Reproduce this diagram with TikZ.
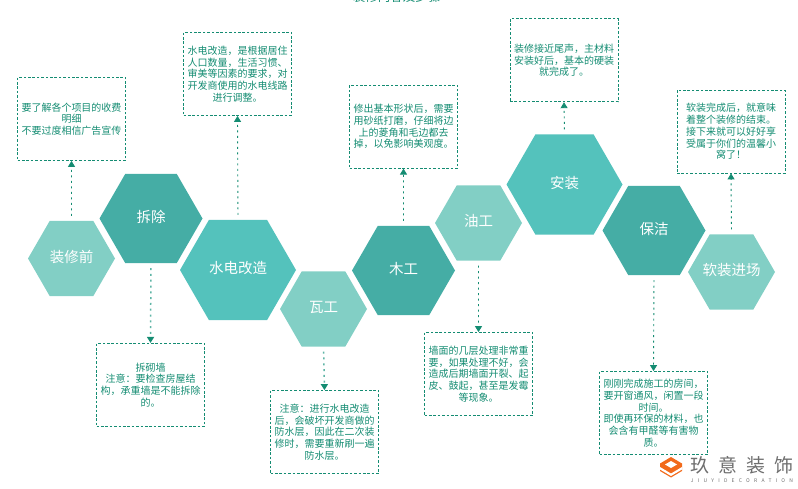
\documentclass[tikz,border=0pt]{standalone}
\usepackage{fontspec}
\setmainfont{Noto Sans CJK SC}
\usetikzlibrary{shapes.geometric,arrows.meta}
\definecolor{boxgreen}{HTML}{148C72}
\definecolor{hexlight}{HTML}{82CFC5}
\definecolor{hexdark}{HTML}{45ADA5}
\definecolor{hexmid}{HTML}{54C2BC}
\definecolor{dotlight}{HTML}{5FB5A6}
\definecolor{logoorange}{HTML}{F26A1B}
\definecolor{markgray}{HTML}{6E6E6E}
\tikzset{
  hexbase/.style={regular polygon,regular polygon sides=6,text depth=4.5pt,
    inner sep=-10pt,outer sep=0pt,text=white,font=\fontsize{14.5}{16}\selectfont},
  hexsmall/.style={hexbase,fill=hexlight,minimum size=87pt},
  hexdeep/.style={hexbase,fill=hexdark,minimum size=103pt},
  hexbig/.style={hexbase,fill=hexmid,minimum size=116pt},
  notebox/.style={draw=boxgreen,dash pattern=on 2.6pt off 1.8pt,line width=0.8pt,
    minimum width=108pt,minimum height=83pt,inner sep=0pt,align=center,text=boxgreen,
    font=\fontsize{10}{11.7}\selectfont},
  link/.style={draw=boxgreen,line width=0.9pt,dash pattern=on 2pt off 3.5pt,shorten <=5pt,
    -{Triangle[width=7pt,length=6pt,color=boxgreen,fill=boxgreen]}},
  linkpale/.style={link,draw=dotlight,line width=1.5pt,dash pattern=on 2pt off 3.8pt},
  markcn/.style={text=markgray,font=\fontsize{19}{21}\selectfont\addfontfeature{LetterSpace=46}},
  marken/.style={text=markgray,font=\fontsize{5}{6}\selectfont\addfontfeature{LetterSpace=85}}
}
\begin{document}
\begin{tikzpicture}[x=1pt,y=-1pt]
  \useasboundingbox (0,0) rectangle (798,489);
  \clip (0,0) rectangle (798,489);
  \node [text=boxgreen,font=\fontsize{12.5}{14}\selectfont] (title) at (396.5,-3.5) {装修内容及步骤};

  \node [hexsmall] (zhuangxiu) at (71.5,258.5) {装修前};
  \node [hexdeep] (chaichu) at (151,218.5) {拆除};
  \node [hexbig] (shuidian) at (238,270) {水电改造};
  \node [hexsmall] (wagong) at (323.5,309) {瓦工};
  \node [hexdeep] (mugong) at (403.5,270.5) {木工};
  \node [hexsmall] (yougong) at (478.5,223) {油工};
  \node [hexbig] (anzhuang) at (564.5,184.5) {安装};
  \node [hexdeep] (baojie) at (654,230.5) {保洁};
  \node [hexsmall] (ruanzhuang) at (731.5,272) {软装进场};

  \node [notebox] (zhuangxiubox) at (71.5,119) {要了解各个项目的收费\\明细\\不要过度相信广告宣传};
  \node [notebox] (shuidianbox) at (237.5,74) {水电改造，是根据居住\\人口数量，生活习惯、\\审美等因素的要求，对\\开发商使用的水电线路\\进行调整。};
  \node [notebox] (mugongbox) at (403.5,126.7) {修出基本形状后，需要\\用砂纸打磨，仔细将边\\上的菱角和毛边都去\\掉，以免影响美观度。};
  \node [notebox] (anzhuangbox) at (564,60.3) {装修接近尾声，主材料\\安装好后，基本的硬装\\就完成了。};
  \node [notebox] (ruanzhuangbox) at (731,131.5) {软装完成后，就意味\\着整个装修的结束。\\接下来就可以好好享\\受属于你们的温馨小\\窝了！};
  \node [notebox] (chaichubox) at (150.5,384.8) {拆砌墙\\注意：要检查房屋结\\构，承重墙是不能拆除\\的。};
  \node [notebox] (wagongbox) at (324.5,432) {注意：进行水电改造\\后，会破坏开发商做的\\防水层，因此在二次装\\修时，需要重新刷一遍\\防水层。};
  \node [notebox] (yougongbox) at (478.5,374) {墙面的几层处理非常重\\要，如果处理不好，会\\造成后期墙面开裂、起\\皮、鼓起，甚至是发霉\\等现象。};
  \node [notebox] (baojiebox) at (653.5,413) {刚刚完成施工的房间，\\要开窗通风，闲置一段\\时间。\\即使再环保的材料，也\\会含有甲醛等有害物\\质。};

  \draw [link] (zhuangxiu.north) -- (zhuangxiubox.south);
  \draw [link] (shuidian.north) -- (shuidianbox.south);
  \draw [link] (mugong.north) -- (mugongbox.south);
  \draw [link] (anzhuang.north) -- (anzhuangbox.south);
  \draw [link] (ruanzhuang.north) -- (ruanzhuangbox.south);
  \draw [linkpale] (chaichu.south) -- (chaichubox.north);
  \draw [linkpale] (wagong.south) -- (wagongbox.north);
  \draw [link] (yougong.south) -- (yougongbox.north);
  \draw [link] (baojie.south) -- (baojiebox.north);

  \fill [logoorange] (671,457) -- (682,463.5) -- (682,471) -- (671,477.5) -- (660,471) -- (660,463.5) -- cycle;
  \fill [white] (671,461) -- (677,464.5) -- (671,468) -- (665,464.5) -- cycle;
  \fill [white] (660,467) -- (671,473.5) -- (682,467) -- (682,469.5) -- (671,476) -- (660,469.5) -- cycle;
  \node [markcn] (markname) at (742,465.5) {玖意装饰};
  \node [marken] (markline) at (742,480.5) {JIUYIDECORATION};
\end{tikzpicture}
\end{document}
